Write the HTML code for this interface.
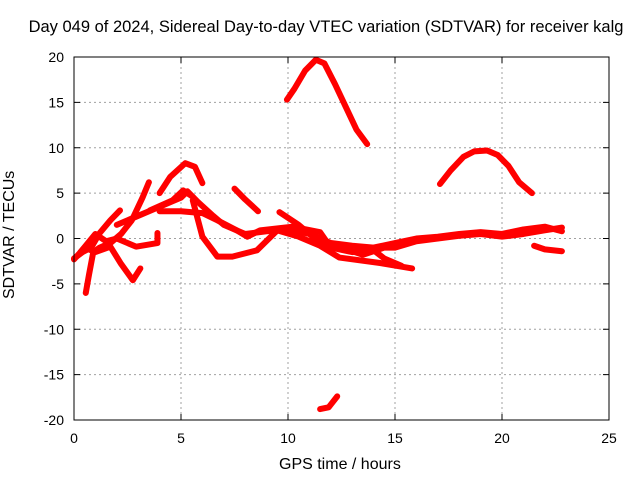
<!DOCTYPE html>
<html><head><meta charset="utf-8"><style>body{margin:0;background:#fff}svg{display:block;font-family:"Liberation Sans",sans-serif}</style></head>
<body>
<svg id="c" width="640" height="480"></svg>
<script>
const xTicks=[0,5,10,15,20,25];
const yTicks=[-20,-15,-10,-5,0,5,10,15,20];
const arcTop=[[9.95,15.3],[10.3,16.5],[10.8,18.5],[11.3,19.7],[11.7,19.3],[12.2,17],[12.7,14.5],[13.2,12],[13.7,10.4]];
const arcRight=[[17.1,6.0],[17.6,7.5],[18.2,9],[18.7,9.6],[19.3,9.7],[19.8,9.2],[20.3,8],[20.8,6.2],[21.4,5.0]];
const lowSeg=[[11.5,-18.8],[11.9,-18.6],[12.3,-17.4]];
const midSeg=[[7.5,5.5],[8,4.3],[8.6,3.0]];
const sA=[[0.55,-6],[0.7,-4],[0.9,-1.5],[1.2,-1],[1.7,-0.5],[2.2,0.5],[2.7,2],[3.2,4.5],[3.5,6.2]];
const sB=[[0,-2.2],[0.4,-1.5],[0.8,-1],[1.2,0.6],[1.7,2],[2.15,3.1]];
const sC=[[0,-2.3],[0.5,-1],[1,-1.5],[1.7,-0.9],[2.2,-2.8],[2.75,-4.6],[3.1,-3.3]];
const sD=[[0.3,-1.5],[1,0.5],[1.5,-0.3],[2,0],[2.5,-0.5],[2.9,-0.9],[3.9,-0.5],[3.9,0.6]];
const sE=[[4.0,5],[4.5,6.8],[5.2,8.3],[5.65,7.9],[6.0,6.1]];
const sF=[[2.0,1.5],[3,2.5],[4,3.5],[5,4.5],[5.3,5.2],[5.8,4],[6.5,2.5],[7,1.5],[8,0.5],[9,0.8],[10,1],[11,0.5],[12,-0.5],[13,-0.8],[14,-1],[15,-0.5],[16,0],[17,0.2],[18,0.5],[19,0.7],[20,0.5],[21,1],[22,1.3],[22.8,0.8]];
const sG=[[5.55,4.2],[6.0,0.2],[6.7,-2],[7.4,-2],[8.55,-1.3],[9.5,0.9],[10.5,0.2],[11.5,-0.8],[12.4,-2.1],[14.3,-2.7],[15.8,-3.3]];
const sH=[[4.0,3],[5,3],[6.0,2.8],[6.7,2],[7.6,0.9],[8.1,0.2],[8.7,0.9],[10.2,1.3],[11.5,0.7],[12,-1],[13,-1.5],[14,-1.3],[14.5,-2.2],[15.3,-3]];
const sI=[[3.55,3.1],[4.6,4.2],[5.1,5.3],[5.55,4.6]];
const sJ=[[9.6,2.9],[10.5,1.5],[11,0.5],[11.5,-0.5],[12.5,-1],[13.5,-1.8],[14.5,-1],[15,-1],[16,-0.3],[17,0],[18,0.3],[19,0.5],[20,0.2],[21,0.5],[22,0.9],[22.8,1.2]];
const sK=[[21.5,-0.8],[22,-1.2],[22.8,-1.4]];
const series=[arcTop,arcRight,lowSeg,midSeg,sA,sB,sC,sD,sE,sF,sG,sH,sI,sJ,sK];
const L=74,R=609,T=57,B=420;
const X=h=>L+h*(R-L)/25, Y=v=>B-(v+20)*(B-T)/40;
const svg=document.getElementById('c');const NS='http://www.w3.org/2000/svg';
function mk(t,a,p){const e=document.createElementNS(NS,t);for(const k in a)e.setAttribute(k,a[k]);(p||svg).appendChild(e);return e;}
xTicks.forEach(t=>{const x=X(t);
 if(t>0&&t<25){const g=mk('line',{x1:x,y1:T,x2:x,y2:B,stroke:'#a0a0a0','stroke-dasharray':'2,3'});
 
 }
 mk('line',{x1:x,y1:B,x2:x,y2:B-6,stroke:'#000'});mk('line',{x1:x,y1:T,x2:x,y2:T+6,stroke:'#000'});
 const l=mk('text',{x:x,y:B+23,'text-anchor':'middle','font-size':14});l.textContent=t;
 
 });
yTicks.forEach(t=>{const y=Y(t);
 if(t>-20&&t<20){const g=mk('line',{x1:L,y1:y,x2:R,y2:y,stroke:'#a0a0a0','stroke-dasharray':'2,3'});
 
 }
 mk('line',{x1:L,y1:y,x2:L+6,y2:y,stroke:'#000'});mk('line',{x1:R,y1:y,x2:R-6,y2:y,stroke:'#000'});
 const l=mk('text',{x:L-10,y:y+5,'text-anchor':'end','font-size':14});l.textContent=t;
 
 });
series.forEach(s=>{const p=mk('polyline',{points:s.map(d=>X(d[0])+','+Y(d[1])).join(' '),fill:'none',stroke:'#f00','stroke-width':6,'stroke-linejoin':'round','stroke-linecap':'round'});
 
 });
const b=mk('rect',{x:L,y:T,width:R-L,height:B-T,fill:'none',stroke:'#000'});


</script>
<div style="position:absolute;left:0;top:18px;width:652px;text-align:center;font:16.5px 'Liberation Sans',sans-serif;white-space:nowrap">Day 049 of 2024, Sidereal Day-to-day VTEC variation (SDTVAR) for receiver kalg</div>
<div style="position:absolute;left:279px;top:456px;font:16px 'Liberation Sans',sans-serif;white-space:nowrap">GPS time / hours</div>
<div style="position:absolute;left-:0;left:-50px;top:230px;width:120px;text-align:center;transform:rotate(-90deg);font:16px 'Liberation Sans',sans-serif;white-space:nowrap">SDTVAR / TECUs</div>
</body></html>
